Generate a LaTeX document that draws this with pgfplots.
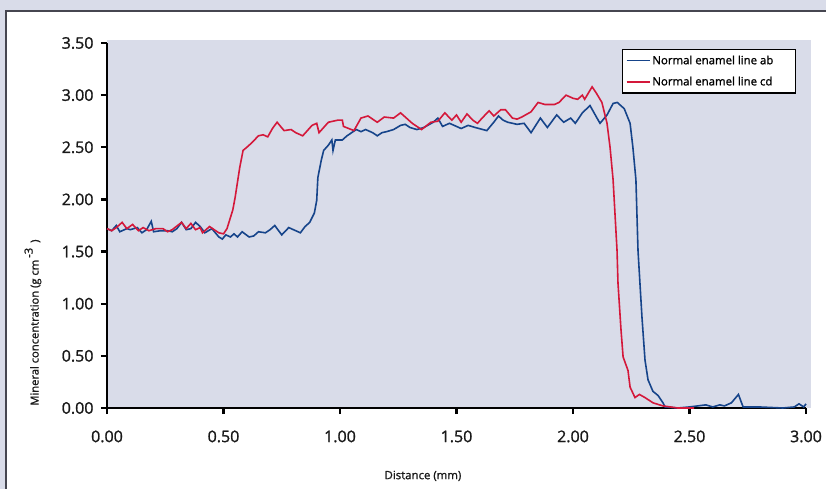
\documentclass[border=0pt]{standalone}
\usepackage{pgfplots}
\pgfplotsset{compat=1.18}
\usepackage{fontspec}
\setmainfont{Open Sans}
\newfontfamily\semib{Open Sans}[RawFeature={embolden=1.2}]
\definecolor{bgl}{RGB}{217,220,233}
\definecolor{panelc}{RGB}{70,70,80}
\definecolor{lineab}{RGB}{22,68,138}
\definecolor{linecd}{RGB}{212,24,58}
\pgfplotstableread{
x y
0.00 1.72
0.02 1.70
0.04 1.75
0.055 1.69
0.085 1.72
0.10 1.71
0.13 1.73
0.15 1.68
0.17 1.71
0.19 1.79
0.20 1.69
0.23 1.70
0.26 1.70
0.28 1.69
0.30 1.72
0.32 1.78
0.34 1.71
0.36 1.72
0.38 1.78
0.40 1.74
0.42 1.68
0.45 1.72
0.48 1.64
0.495 1.62
0.51 1.66
0.53 1.64
0.545 1.67
0.56 1.64
0.58 1.69
0.61 1.64
0.63 1.65
0.65 1.69
0.68 1.68
0.70 1.71
0.72 1.75
0.75 1.66
0.78 1.73
0.81 1.70
0.83 1.68
0.85 1.74
0.87 1.78
0.89 1.87
0.90 1.99
0.905 2.21
0.92 2.38
0.93 2.47
0.95 2.52
0.965 2.57
0.97 2.47
0.98 2.57
1.01 2.57
1.03 2.61
1.05 2.64
1.07 2.67
1.09 2.65
1.11 2.67
1.14 2.64
1.16 2.61
1.18 2.64
1.20 2.65
1.23 2.67
1.26 2.71
1.28 2.72
1.30 2.69
1.33 2.67
1.36 2.69
1.40 2.74
1.42 2.78
1.44 2.70
1.47 2.73
1.52 2.68
1.55 2.71
1.58 2.69
1.63 2.66
1.66 2.74
1.68 2.80
1.70 2.76
1.72 2.74
1.76 2.72
1.79 2.73
1.82 2.64
1.86 2.78
1.89 2.69
1.93 2.81
1.96 2.74
1.99 2.78
2.01 2.73
2.04 2.83
2.073 2.90
2.103 2.78
2.116 2.73
2.146 2.81
2.172 2.92
2.19 2.93
2.205 2.90
2.22 2.87
2.245 2.73
2.257 2.50
2.27 2.19
2.279 1.51
2.296 0.87
2.309 0.46
2.322 0.27
2.343 0.16
2.365 0.12
2.386 0.05
2.395 0.01
2.45 0.00
2.50 0.01
2.57 0.03
2.60 0.01
2.63 0.03
2.65 0.02
2.68 0.05
2.71 0.13
2.73 0.01
2.80 0.01
2.90 0.00
2.95 0.01
2.97 0.04
2.99 0.01
3.00 0.04
}\tabab
\pgfplotstableread{
x y
0.00 1.72
0.02 1.70
0.04 1.73
0.065 1.78
0.085 1.72
0.11 1.76
0.135 1.70
0.155 1.73
0.18 1.70
0.21 1.72
0.24 1.72
0.26 1.69
0.28 1.71
0.32 1.78
0.34 1.72
0.36 1.77
0.38 1.71
0.40 1.73
0.41 1.68
0.44 1.74
0.48 1.68
0.50 1.67
0.515 1.72
0.54 1.90
0.55 2.02
0.57 2.31
0.584 2.47
0.60 2.50
0.62 2.54
0.65 2.61
0.67 2.62
0.69 2.60
0.71 2.68
0.73 2.74
0.76 2.66
0.79 2.67
0.81 2.64
0.84 2.61
0.86 2.66
0.88 2.71
0.90 2.73
0.91 2.64
0.95 2.74
0.99 2.76
1.01 2.76
1.015 2.70
1.06 2.66
1.09 2.78
1.12 2.80
1.16 2.74
1.19 2.79
1.23 2.78
1.26 2.83
1.31 2.73
1.35 2.67
1.39 2.74
1.42 2.75
1.45 2.83
1.48 2.76
1.50 2.81
1.52 2.74
1.545 2.82
1.57 2.76
1.59 2.73
1.61 2.78
1.64 2.85
1.66 2.80
1.69 2.86
1.71 2.86
1.74 2.78
1.76 2.77
1.78 2.79
1.82 2.84
1.85 2.93
1.88 2.91
1.92 2.91
1.94 2.93
1.97 3.00
2.00 2.97
2.02 2.96
2.04 3.00
2.05 2.96
2.082 3.08
2.10 3.02
2.124 2.93
2.146 2.73
2.159 2.50
2.172 2.19
2.189 1.51
2.193 1.20
2.206 0.75
2.215 0.49
2.236 0.36
2.245 0.20
2.266 0.10
2.285 0.13
2.309 0.10
2.343 0.05
2.386 0.02
2.45 0.00
2.52 0.00
}\tabcd
\begin{document}
\begin{tikzpicture}[x=1pt,y=1pt]
\useasboundingbox (-107,-81) rectangle (719,408);
\fill[bgl] (-107,-81) rectangle (719,408);
\fill[white] (-101,-81) rectangle (719,397);
\draw[color=panelc, line width=1.5pt] (-101,-81) -- (-101,397) -- (719,397);
\fill[bgl] (0,0) rectangle (704,368);
\begin{axis}[
  at={(0,0)}, anchor=south west,
  scale only axis, width=699pt, height=365pt,
  xmin=0, xmax=3, ymin=0, ymax=3.5,
  axis lines=left,
  axis line style={-, line width=2.4pt, black},
  xtick={0,0.5,1,1.5,2,2.5,3},
  ytick={0,0.5,1,1.5,2,2.5,3,3.5},
  tick align=outside,
  major tick length=6pt,
  tick style={line width=2.4pt, black},
  /pgf/number format/.cd, fixed, fixed zerofill, precision=2, assume math mode=true,
  /pgfplots/.cd,
  ticklabel style={font=\semib\fontsize{16}{16}\selectfont, text=black!90},
  xticklabel style={yshift=-13pt},
  yticklabel style={xshift=-4pt},
  xlabel={Distance (mm)},
  xlabel style={at={(axis description cs:0.452,-0.186)}, anchor=center, font=\semib\fontsize{11.4}{13}\selectfont, text=black!90},
  ylabel={Mineral concentration (g cm\hspace{2pt}\raisebox{6pt}{-3}\hspace{5pt})},
  ylabel style={at={(axis description cs:-0.106,0.234)}, anchor=center, font=\semib\fontsize{11.2}{13}\selectfont, text=black!90},
  legend style={at={(axis description cs:0.9857,0.9836)}, anchor=north east, draw=black, line width=1.2pt, fill=white,
    font=\semib\fontsize{11.4}{13}\selectfont, row sep=7pt, inner xsep=3pt, inner ysep=4pt},
  legend image code/.code={\draw[#1] (0pt,0pt) -- (23pt,0pt);},
  legend cell align=left,
  clip=false,
]
\addplot[lineab, line width=1.6pt] table[x=x,y=y] {\tabab};
\addlegendentry{\makebox[138pt][l]{Normal enamel line ab}}
\addplot[linecd, line width=1.6pt] table[x=x,y=y] {\tabcd};
\addlegendentry{\makebox[138pt][l]{Normal enamel line cd}}
\end{axis}
\end{tikzpicture}
\end{document}
